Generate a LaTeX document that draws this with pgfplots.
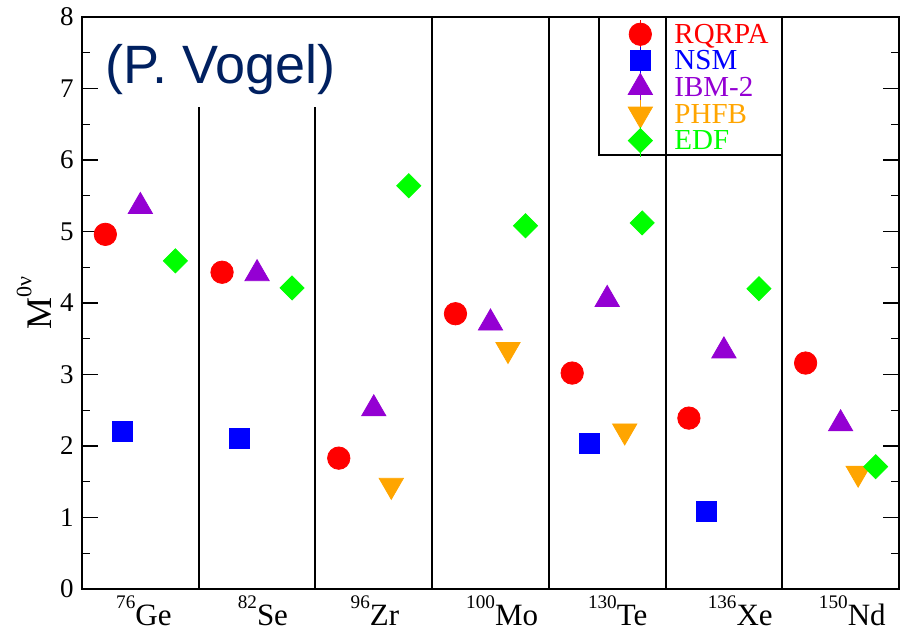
\documentclass[border=0pt]{standalone}
\usepackage{pgfplots}
\pgfplotsset{compat=1.18}
\usepackage{fontspec}
\setmainfont{Liberation Serif}
\newfontfamily\arialfont{Liberation Sans}
\definecolor{cRQ}{RGB}{255,0,0}
\definecolor{cNSM}{RGB}{0,0,255}
\definecolor{cIBM}{RGB}{148,0,211}
\definecolor{cPH}{RGB}{255,165,0}
\definecolor{cEDF}{RGB}{0,255,0}
\definecolor{vogel}{RGB}{0,32,96}
\newcommand{\iso}[2]{\raisebox{8.5pt}{\fontsize{9.6}{10}\selectfont #1}#2}
\begin{document}
\begin{tikzpicture}
\useasboundingbox (-41pt,-20.5pt) rectangle (409.5pt,294.5pt);
\begin{axis}[
  at={(0,0)}, anchor=south west,
  scale only axis, width=408.5pt, height=286pt,
  xmin=0, xmax=7, ymin=0, ymax=8,
  axis line style={line width=0.8pt},
  ytick={0,...,8}, minor y tick num=1,
  tick align=inside,
  major tick length=8pt, minor tick length=4pt,
  every tick/.style={line width=0.6pt, black},
  xtick={0.53,1.55,2.51,3.6,4.59,5.64,6.6},
  xticklabels={\iso{76}{Ge},\iso{82}{Se},\iso{96}{Zr},\iso{100}{Mo},\iso{130}{Te},\iso{136}{Xe},\iso{150}{Nd}},
  x tick style={draw=none},
  /pgf/number format/assume math mode=true,
  yticklabel style={font=\fontsize{13.5}{14}\selectfont, inner sep=0pt, xshift=-4pt},
  xticklabel style={font=\fontsize{15.5}{16}\selectfont, inner sep=0pt, anchor=north, yshift=-3pt},
  ylabel={M\raisebox{10pt}{\fontsize{11}{11}\selectfont 0ν}},
  ylabel style={font=\fontsize{18}{18}\selectfont, at={(axis description cs:-0.0588,0.5)}, anchor=center},
  legend style={at={(axis cs:4.68,7.96)}, anchor=north west, draw=none, fill=none,
    inner sep=0pt, outer sep=0pt, row sep=-2.1pt,
    nodes={inner sep=0pt, text height=9pt, text depth=3.5pt, font=\fontsize{14.5}{14.5}\selectfont},
    /tikz/every odd column/.append style={column sep=11pt}},
  legend cell align=left,
  scat/.style={only marks, legend image code/.code={\path (0pt,-6.25pt) -- (0pt,8.75pt);\draw[##1] plot coordinates {(0pt,1.75pt)};}},
]
% separators
\addplot[black, line width=1pt, forget plot] coordinates {(1,0)(1,6.74)};
\addplot[black, line width=1pt, forget plot] coordinates {(2,0)(2,6.74)};
\addplot[black, line width=1pt, forget plot] coordinates {(3,0)(3,8)};
\addplot[black, line width=1pt, forget plot] coordinates {(4,0)(4,8)};
\addplot[black, line width=1pt, forget plot] coordinates {(5,0)(5,8)};
\addplot[black, line width=1pt, forget plot] coordinates {(6,0)(6,8)};
% legend box
\addplot[black, line width=1pt, forget plot] coordinates {(4.43,8)(4.43,6.07)(6,6.07)};

\addplot[scat, mark=*, color=cRQ, mark size=5.6pt, mark options={solid}]
 coordinates {(0.2,4.96)(1.2,4.43)(2.2,1.83)(3.2,3.85)(4.2,3.02)(5.2,2.39)(6.2,3.16)};
\addlegendentry{\textcolor{cRQ}{RQRPA}}
\addplot[scat, mark=square*, color=cNSM, mark size=5pt, mark options={solid}]
 coordinates {(0.35,2.21)(1.35,2.11)(4.35,2.04)(5.35,1.08)};
\addlegendentry{\textcolor{cNSM}{NSM}}
\addplot[scat, mark=triangle*, color=cIBM, mark size=7pt, mark options={solid}]
 coordinates {(0.5,5.35)(1.5,4.41)(2.5,2.52)(3.5,3.72)(4.5,4.05)(5.5,3.33)(6.5,2.31)};
\addlegendentry{\textcolor{cIBM}{IBM-2}}
\addplot[scat, mark=triangle*, color=cPH, mark size=7pt, mark options={solid, rotate=180}]
 coordinates {(2.65,1.45)(3.65,3.35)(4.65,2.21)(6.65,1.62)};
\addlegendentry{\textcolor{cPH}{PHFB}}
\addplot[scat, mark=square*, color=cEDF, mark size=4.25pt, mark options={solid, rotate=45}]
 coordinates {(0.8,4.59)(1.8,4.21)(2.8,5.64)(3.8,5.08)(4.8,5.12)(5.8,4.20)(6.8,1.71)};
\addlegendentry{\textcolor{cEDF}{EDF}}

\node[font=\arialfont\fontsize{27}{27}\selectfont, text=vogel, inner sep=0pt] at (axis cs:1.19,7.26) {(P. Vogel)};
\end{axis}
\end{tikzpicture}
\end{document}
